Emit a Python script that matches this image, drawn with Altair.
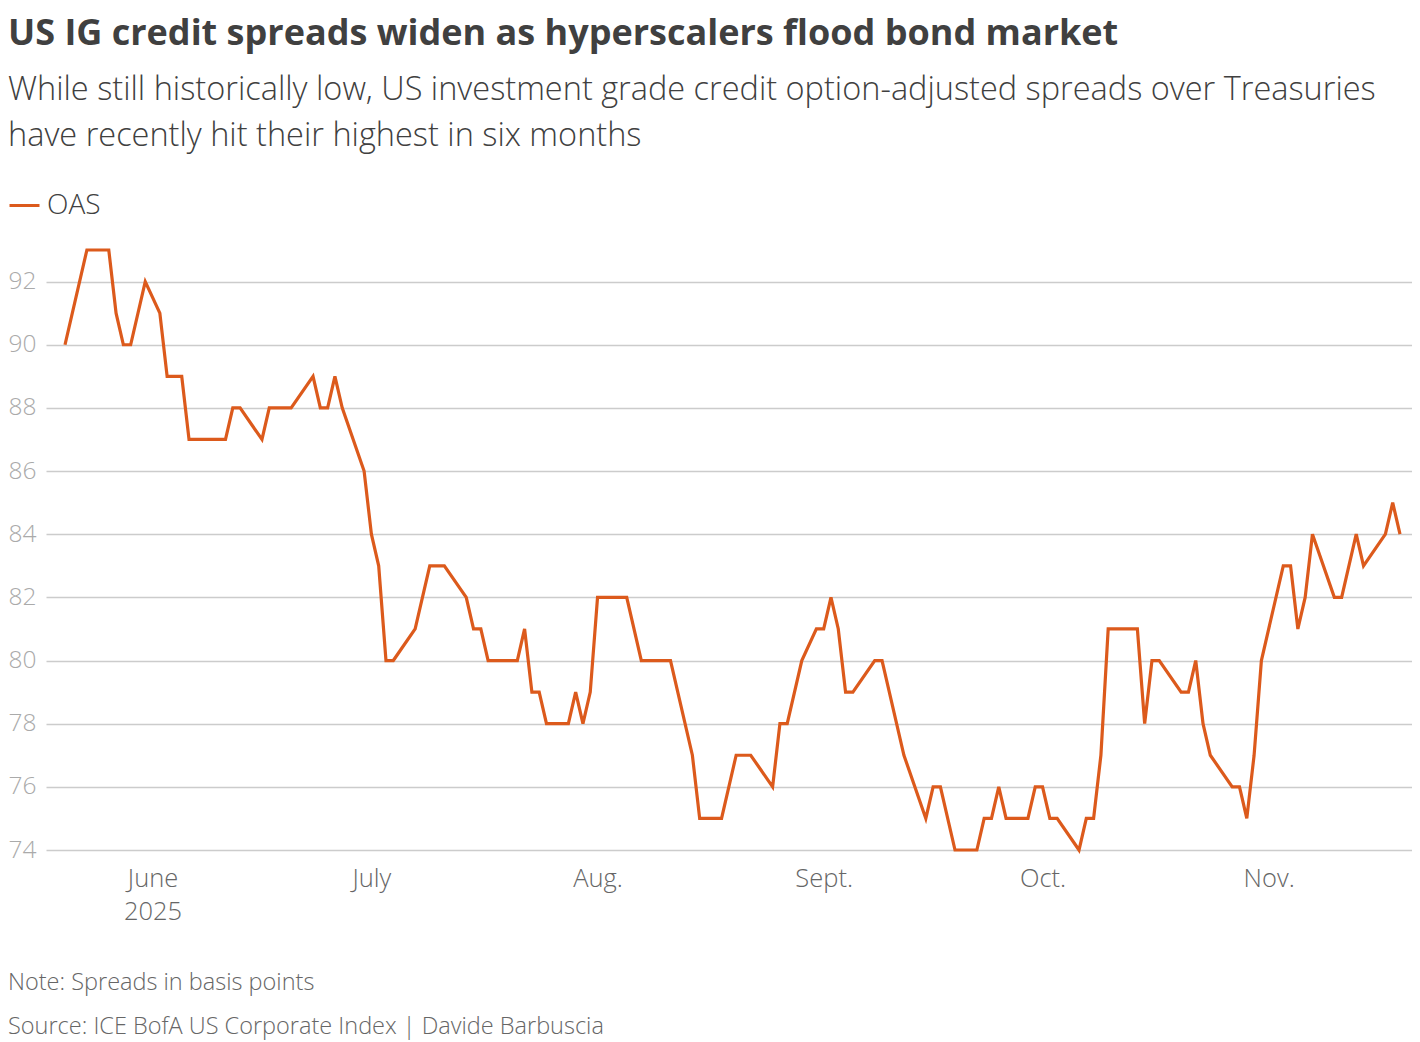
import altair as alt
import pandas as pd

dates = [
    "2025-05-20", "2025-05-23", "2025-05-26", "2025-05-27", "2025-05-28", "2025-05-29",
    "2025-05-31", "2025-06-02", "2025-06-03", "2025-06-05", "2025-06-06", "2025-06-11",
    "2025-06-12", "2025-06-13", "2025-06-16", "2025-06-17", "2025-06-20", "2025-06-23",
    "2025-06-24", "2025-06-25", "2025-06-26", "2025-06-27", "2025-06-30", "2025-07-01",
    "2025-07-02", "2025-07-03", "2025-07-04", "2025-07-07", "2025-07-09", "2025-07-11",
    "2025-07-14", "2025-07-15", "2025-07-16", "2025-07-17", "2025-07-21", "2025-07-22",
    "2025-07-23", "2025-07-24", "2025-07-25", "2025-07-28", "2025-07-29", "2025-07-30",
    "2025-07-31", "2025-08-01", "2025-08-05", "2025-08-07", "2025-08-11", "2025-08-14",
    "2025-08-15", "2025-08-18", "2025-08-20", "2025-08-22", "2025-08-25", "2025-08-26",
    "2025-08-27", "2025-08-29", "2025-08-31", "2025-09-01", "2025-09-02", "2025-09-03",
    "2025-09-04", "2025-09-05", "2025-09-08", "2025-09-09", "2025-09-12", "2025-09-15",
    "2025-09-16", "2025-09-17", "2025-09-19", "2025-09-22", "2025-09-23", "2025-09-24",
    "2025-09-25", "2025-09-26", "2025-09-29", "2025-09-30", "2025-10-01", "2025-10-02",
    "2025-10-03", "2025-10-06", "2025-10-07", "2025-10-08", "2025-10-09", "2025-10-10",
    "2025-10-14", "2025-10-15", "2025-10-16", "2025-10-17", "2025-10-20", "2025-10-21",
    "2025-10-22", "2025-10-23", "2025-10-24", "2025-10-27", "2025-10-28", "2025-10-29",
    "2025-10-30", "2025-10-31", "2025-11-03", "2025-11-04", "2025-11-05", "2025-11-06",
    "2025-11-07", "2025-11-10", "2025-11-11", "2025-11-13", "2025-11-14", "2025-11-17",
    "2025-11-18", "2025-11-19",
]
oas = [
    90, 93, 93, 91, 90, 90,
    92, 91, 89, 89, 87, 87,
    88, 88, 87, 88, 88, 89,
    88, 88, 89, 88, 86, 84,
    83, 80, 80, 81, 83, 83,
    82, 81, 81, 80, 80, 81,
    79, 79, 78, 78, 79, 78,
    79, 82, 82, 80, 80, 77,
    75, 75, 77, 77, 76, 78,
    78, 80, 81, 81, 82, 81,
    79, 79, 80, 80, 77, 75,
    76, 76, 74, 74, 75, 75,
    76, 75, 75, 76, 76, 75,
    75, 74, 75, 75, 77, 81,
    81, 78, 80, 80, 79, 79,
    80, 78, 77, 76, 76, 75,
    77, 80, 83, 83, 81, 82,
    84, 82, 82, 84, 83, 84,
    85, 84,
]
series_name = "OAS"
y_ticks = [74, 76, 78, 80, 82, 84, 86, 88, 90, 92]
month_ticks = [6, 7, 8, 9, 10, 11]
month_labels = ["Jan.", "Feb.", "March", "April", "May", "June", "July", "Aug.", "Sept.", "Oct.", "Nov.", "Dec."]

title_text = "US IG credit spreads widen as hyperscalers flood bond market"
subtitle_lines = [
    "While still historically low, US investment grade credit option-adjusted spreads over Treasuries",
    "have recently hit their highest in six months",
]
note_text = "Note: Spreads in basis points"
source_text = "Source: ICE BofA US Corporate Index | Davide Barbuscia"

FONT = "Open Sans"
W, H = 1366, 600

df = pd.DataFrame({"date": dates, "value": oas, "series": series_name})

label_list = "[" + ",".join("'" + m + "'" for m in month_labels) + "]"
label_expr = (
    "utcmonth(datum.value) == 5 ? ['June', '2025'] : " + label_list + "[utcmonth(datum.value)]"
)

line = alt.Chart(df).mark_line(strokeWidth=3.2, strokeJoin="miter").encode(
    x=alt.X(
        "date:T",
        title=None,
        scale=alt.Scale(
            domain=[
                alt.DateTime(year=2025, month=5, date=17, hours=9, minutes=28, utc=True),
                alt.DateTime(year=2025, month=11, date=20, hours=15, minutes=30, utc=True),
            ]
        ),
        axis=alt.Axis(
            values=[alt.DateTime(year=2025, month=m, date=1, utc=True) for m in month_ticks],
            labelExpr=label_expr,
            grid=False,
            ticks=False,
            domain=False,
            labelFont=FONT,
            labelFontSize=25.5,
            labelFontWeight=300,
            labelColor="#666666",
            labelPadding=16,
            labelLineHeight=33,
        ),
    ),
    y=alt.Y(
        "value:Q",
        title=None,
        scale=alt.Scale(domain=[74, 93], nice=False, zero=False),
        axis=alt.Axis(
            values=y_ticks,
            grid=True,
            gridColor="#cccccc",
            gridWidth=1.5,
            ticks=False,
            domain=False,
            labelFont=FONT,
            labelFontSize=24.5,
            labelFontWeight=300,
            labelColor="#aaaaaa",
            labelPadding=10,
            labelBaseline="middle",
        ),
    ),
    color=alt.Color(
        "series:N",
        scale=alt.Scale(domain=[series_name], range=["#dc5a1c"]),
        legend=alt.Legend(
            title=None,
            orient="none",
            legendX=-38,
            legendY=-61,
            symbolType="stroke",
            symbolStrokeWidth=3,
            symbolSize=900,
            labelFont=FONT,
            labelFontSize=28,
            labelFontWeight=300,
            labelColor="#404040",
            labelOffset=6,
        ),
    ),
)

note = alt.Chart(pd.DataFrame({"t": [note_text]})).mark_text(
    align="left", baseline="alphabetic", font=FONT, fontSize=23.5, fontWeight=300, color="#666666"
).encode(x=alt.value(-38), y=alt.value(H + 140), text="t:N")

source = alt.Chart(pd.DataFrame({"t": [source_text]})).mark_text(
    align="left", baseline="alphabetic", font=FONT, fontSize=23.5, fontWeight=300, color="#666666"
).encode(x=alt.value(-38), y=alt.value(H + 184), text="t:N")

chart = alt.layer(line, note, source).properties(
    width=W,
    height=H,
    padding={"top": 7, "left": 0, "right": 0, "bottom": 4},
    title=alt.TitleParams(
        text=title_text,
        subtitle=subtitle_lines,
        anchor="start",
        frame="bounds",
        font=FONT,
        fontSize=36,
        fontWeight="bold",
        color="#404040",
        subtitleFont=FONT,
        subtitleFontSize=32.5,
        subtitleFontWeight=300,
        subtitleColor="#404040",
        subtitleLineHeight=46,
        subtitlePadding=21,
        offset=36,
    ),
).configure_view(stroke=None)

chart.save("out.html", embed_options={"renderer": "svg", "actions": False})
